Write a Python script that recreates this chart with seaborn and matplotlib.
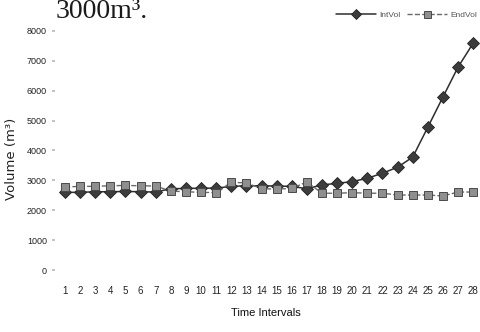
import matplotlib
matplotlib.use("Agg")
import matplotlib.pyplot as plt
import matplotlib.font_manager as fm
import seaborn as sns
import pandas as pd

intervals = list(range(1, 29))
int_vol = [2600, 2600, 2620, 2620, 2630, 2620, 2610, 2720, 2730, 2740, 2740, 2800,
           2820, 2820, 2810, 2800, 2720, 2850, 2900, 2960, 3070, 3240, 3440, 3780,
           4780, 5790, 6790, 7590]
end_vol = [2780, 2800, 2800, 2820, 2830, 2820, 2810, 2640, 2620, 2600, 2590, 2930,
           2920, 2720, 2710, 2730, 2950, 2570, 2570, 2590, 2570, 2570, 2510, 2510,
           2510, 2480, 2610, 2610]
y_ticks = [0, 1000, 2000, 3000, 4000, 5000, 6000, 7000, 8000]

sns.set_theme(style="white")
names = {f.name for f in fm.fontManager.ttflist}
narrow = "Liberation Sans Narrow" if "Liberation Sans Narrow" in names else "Liberation Sans"
plt.rcParams["font.family"] = [narrow, "DejaVu Sans"]

df = pd.DataFrame({"Interval": intervals, "IntVol": int_vol, "EndVol": end_vol})

fig = plt.figure(figsize=(4.8, 3.32), dpi=100)
ax = fig.add_axes([0.115, 0.173, 0.885, 0.752])

sns.lineplot(data=df, x="Interval", y="IntVol", ax=ax, color="#2e2e2e", lw=1.1,
             marker="D", markersize=6.3, markerfacecolor="#3c3c3c",
             markeredgecolor="#222222", markeredgewidth=0.6, label="IntVol")
sns.lineplot(data=df, x="Interval", y="EndVol", ax=ax, color="#6a6a6a", lw=1.0,
             linestyle="--", marker="s", markersize=6.3, markerfacecolor="#8f8f8f",
             markeredgecolor="#4a4a4a", markeredgewidth=0.7, label="EndVol")

ax.set_xlim(0.35, 28.45)
ax.set_ylim(-150, 8200)
ax.set_xticks(intervals)
ax.set_xticklabels([str(i) for i in intervals], fontsize=7, color="#222222")
ax.set_yticks(y_ticks)
ax.set_yticklabels([str(v) for v in y_ticks], fontsize=6.5, color="#222222")
ax.tick_params(axis="y", length=2, color="#bbbbbb", pad=4, left=True)
ax.tick_params(axis="x", length=0, pad=8)
for s in ax.spines.values():
    s.set_visible(False)
ax.grid(False)
ax.set_xlabel("")
ax.set_ylabel("")

fig.text(0.554, 0.057, "Time Intervals", ha="center", va="center", fontsize=8,
         color="#111111")
fig.text(0.024, 0.52, "Volume (m³)", ha="center", va="center", rotation=90,
         fontsize=9.5, color="#222222", family=["DejaVu Sans"])
fig.text(0.115, 0.946, "3000m³.", ha="left", va="baseline", fontsize=20,
         color="#1a1a1a", family=["Liberation Serif", "DejaVu Serif"])

if ax.legend_:
    ax.legend_.remove()
h, l = ax.get_legend_handles_labels()
fig.legend(h, l, loc="upper right", bbox_to_anchor=(1.01, 0.99), ncol=2,
           frameon=False, fontsize=6, handlelength=4.8, columnspacing=0.8,
           handletextpad=0.4, labelcolor="#555555", markerscale=0.8)

fig.savefig("out.png", dpi=100)
